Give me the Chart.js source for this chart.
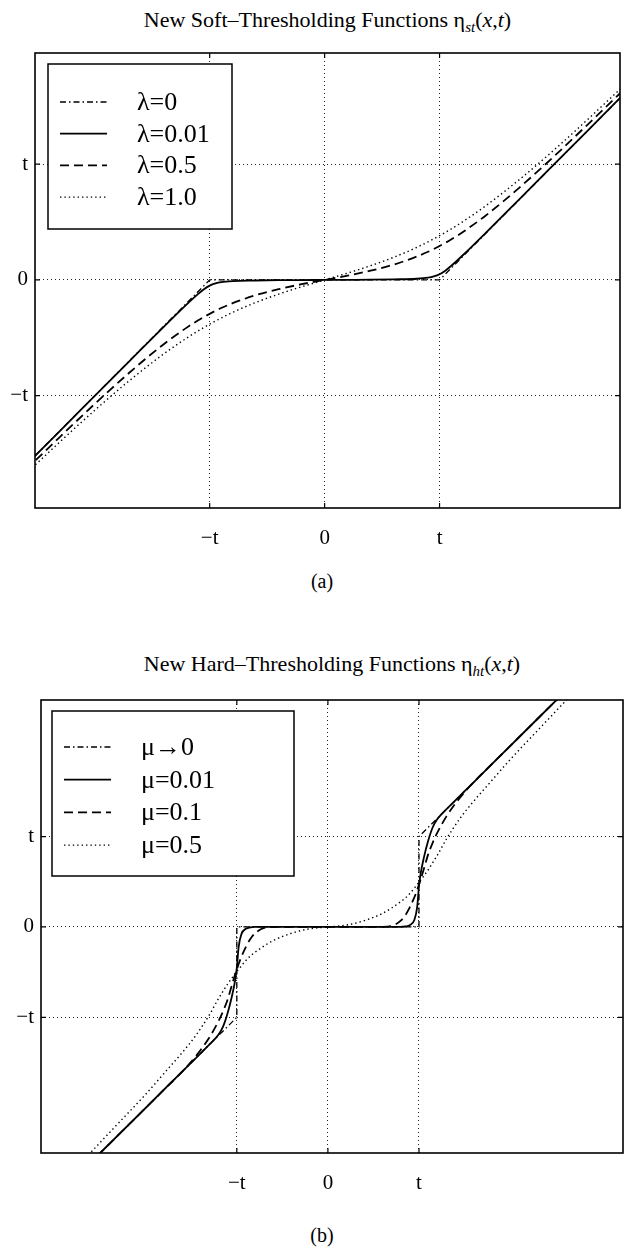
<!DOCTYPE html>
<html>
<head>
<meta charset="utf-8">
<script src="https://cdn.jsdelivr.net/npm/chart.js@4.4.1/dist/chart.umd.min.js"></script>
<style>
  body { margin: 0; background: #fff; width: 626px; height: 1250px; position: relative; overflow: hidden;
         font-family: "Liberation Serif", "Times New Roman", serif; color: #000; }
  .box { position: absolute; left: 0; width: 626px; }
  .title { position: absolute; left: 35px; width: 585px; text-align: center; font-size: 22px; line-height: 22px; white-space: nowrap; }
  .title sub { font-size: 15px; vertical-align: -5px; line-height: 0; }
  .cap { position: absolute; left: 292px; width: 60px; text-align: center; font-size: 20px; line-height: 20px; }
</style>
</head>
<body>
<div class="title" style="top:9px">New Soft&ndash;Thresholding Functions &eta;<sub><i>st</i></sub>(<i>x</i>,<i>t</i>)</div>
<div class="box" style="top:0px;height:570px"><canvas id="softChart" width="626" height="570"></canvas></div>
<div class="cap" style="top:571px">(a)</div>

<div class="title" style="top:653px;left:41px;width:582px">New Hard&ndash;Thresholding Functions &eta;<sub><i>ht</i></sub>(<i>x</i>,<i>t</i>)</div>
<div class="box" style="top:600px;height:620px"><canvas id="hardChart" width="626" height="620"></canvas></div>
<div class="cap" style="top:1225px">(b)</div>

<script>
// tick positions (in units of t) and their labels
const tickVals = [-1, 0, 1];
const tickText = ['\u2212t', '0', 't'];

// (a) soft thresholding, x in units of t
const softLabels = ['\u03bb=0', '\u03bb=0.01', '\u03bb=0.5', '\u03bb=1.0'];
const softX = [-2.6, -2.3, -2.0, -1.7, -1.4, -1.2, -1.1, -1.05, -1.0, -0.95, -0.9, -0.8, -0.6, -0.4, -0.2, 0,
               0.2, 0.4, 0.6, 0.8, 0.9, 0.95, 1.0, 1.05, 1.1, 1.2, 1.4, 1.7, 2.0, 2.3, 2.6];
const softL0 = [-1.6, -1.3, -1.0, -0.7, -0.4, -0.2, -0.1, -0.05, 0, 0, 0, 0, 0, 0, 0, 0,
                0, 0, 0, 0, 0, 0, 0, 0.05, 0.1, 0.2, 0.4, 0.7, 1.0, 1.3, 1.6];
const softL001 = [-1.601, -1.301, -1.002, -0.703, -0.405, -0.211, -0.120, -0.080, -0.049, -0.030, -0.019, -0.010, -0.005, -0.002, -0.001, 0,
                  0.001, 0.002, 0.005, 0.010, 0.019, 0.030, 0.049, 0.080, 0.120, 0.211, 0.405, 0.703, 1.002, 1.301, 1.601];
const softL05 = [-1.640, -1.353, -1.071, -0.802, -0.555, -0.412, -0.349, -0.320, -0.293, -0.267, -0.243, -0.201, -0.132, -0.080, -0.037, 0,
                 0.037, 0.080, 0.132, 0.201, 0.243, 0.267, 0.293, 0.320, 0.349, 0.412, 0.555, 0.802, 1.071, 1.353, 1.640];
const softL1 = [-1.675, -1.396, -1.126, -0.871, -0.639, -0.502, -0.440, -0.410, -0.382, -0.355, -0.329, -0.280, -0.195, -0.123, -0.059, 0,
                0.059, 0.123, 0.195, 0.280, 0.329, 0.355, 0.382, 0.410, 0.440, 0.502, 0.639, 0.871, 1.126, 1.396, 1.675];

// (b) hard thresholding
const hardLabels = ['\u03bc\u21920', '\u03bc=0.01', '\u03bc=0.1', '\u03bc=0.5'];
const hardStepX = [-3.4, -1, -1, 1, 1, 3.4];
const hardStepY = [-3.4, -1, 0, 0, 1, 3.4];
const hardX = [-3.4, -3.0, -2.6, -2.3, -2.0, -1.8, -1.6, -1.45, -1.3, -1.2, -1.15, -1.1, -1.05, -1.02, -1.0, -0.98, -0.95, -0.9, -0.85, -0.8, -0.7, -0.6, -0.4, -0.2, 0,
               0.2, 0.4, 0.6, 0.7, 0.8, 0.85, 0.9, 0.95, 0.98, 1.0, 1.02, 1.05, 1.1, 1.15, 1.2, 1.3, 1.45, 1.6, 1.8, 2.0, 2.3, 2.6, 3.0, 3.4];
const hardM001 = [-3.4, -3.0, -2.6, -2.3, -2.0, -1.8, -1.6, -1.45, -1.3, -1.19, -1.1, -0.95, -0.75, -0.6, -0.45, -0.22, -0.08, -0.02, -0.005, 0, 0, 0, 0, 0, 0,
                  0, 0, 0, 0, 0, 0.005, 0.02, 0.08, 0.22, 0.45, 0.6, 0.75, 0.95, 1.1, 1.19, 1.3, 1.45, 1.6, 1.8, 2.0, 2.3, 2.6, 3.0, 3.4];
const hardM01 = [-3.4, -3.0, -2.6, -2.3, -2.0, -1.8, -1.6, -1.43, -1.22, -1.04, -0.93, -0.8, -0.63, -0.53, -0.47, -0.41, -0.33, -0.22, -0.13, -0.07, -0.01, 0, 0, 0, 0,
                 0, 0, 0, 0.01, 0.07, 0.13, 0.22, 0.33, 0.41, 0.47, 0.53, 0.63, 0.8, 0.93, 1.04, 1.22, 1.43, 1.6, 1.8, 2.0, 2.3, 2.6, 3.0, 3.4];
const hardM05 = [-3.33, -2.92, -2.49, -2.17, -1.85, -1.62, -1.39, -1.2, -0.97, -0.79, -0.71, -0.63, -0.56, -0.52, -0.49, -0.47, -0.43, -0.37, -0.32, -0.28, -0.21, -0.15, -0.07, -0.02, 0,
                 0.02, 0.07, 0.15, 0.21, 0.28, 0.32, 0.37, 0.43, 0.47, 0.49, 0.52, 0.56, 0.63, 0.71, 0.79, 0.97, 1.2, 1.39, 1.62, 1.85, 2.17, 2.49, 2.92, 3.33];

// line styles (matlab-ish)
const dashDot = { borderWidth: 1.3, borderDash: [6, 3, 1.5, 3], cubicInterpolationMode: 'default', tension: 0 };
const solid = { borderWidth: 1.8, borderDash: [] };
const dashed = { borderWidth: 1.8, borderDash: [9, 5] };
const dotted = { borderWidth: 1.4, borderDash: [1.4, 3] };

function points(xs, ys) {
  return xs.map((x, i) => ({ x: x, y: ys[i] }));
}

function lineSet(label, xs, ys, style) {
  return Object.assign({
    label: label,
    data: points(xs, ys),
    showLine: true,
    borderColor: '#000',
    backgroundColor: '#000',
    pointRadius: 0,
    fill: false,
    cubicInterpolationMode: 'monotone'
  }, style);
}

// box around the axes, inward ticks and the boxed legend inside the plot
const frame = {
  id: 'frame',
  afterDraw(chart, args, opts) {
    const { ctx, chartArea: a, scales } = chart;
    ctx.save();
    ctx.setLineDash([]);
    ctx.strokeStyle = '#000';
    ctx.lineWidth = 1.6;
    ctx.strokeRect(a.left, a.top, a.right - a.left, a.bottom - a.top);
    ctx.lineWidth = 1.2;
    ctx.beginPath();
    tickVals.forEach(v => {
      const x = scales.x.getPixelForValue(v);
      const y = scales.y.getPixelForValue(v);
      ctx.moveTo(x, a.bottom); ctx.lineTo(x, a.bottom - 5);
      ctx.moveTo(x, a.top); ctx.lineTo(x, a.top + 5);
      ctx.moveTo(a.left, y); ctx.lineTo(a.left + 5, y);
      ctx.moveTo(a.right, y); ctx.lineTo(a.right - 5, y);
    });
    ctx.stroke();

    // legend box
    const bx = a.left + opts.left, by = a.top + opts.top;
    ctx.fillStyle = '#fff';
    ctx.fillRect(bx, by, opts.width, opts.height);
    ctx.lineWidth = 1.5;
    ctx.strokeRect(bx, by, opts.width, opts.height);
    ctx.font = '26px "Liberation Serif", serif';
    ctx.textBaseline = 'middle';
    ctx.fillStyle = '#000';
    chart.data.datasets.forEach((ds, i) => {
      const y = by + opts.firstRow + i * opts.rowStep;
      ctx.setLineDash(ds.borderDash || []);
      ctx.lineWidth = ds.borderWidth;
      ctx.beginPath();
      ctx.moveTo(bx + 12, y);
      ctx.lineTo(bx + 59, y);
      ctx.stroke();
      ctx.setLineDash([]);
      ctx.fillText(ds.label, bx + 89, y + 1);
    });
    ctx.restore();
  }
};

function axis(range, fitSize, isX) {
  const conf = {
    type: 'linear',
    min: range[0],
    max: range[1],
    grid: { color: '#222', lineWidth: 1, drawTicks: false },
    border: { display: false, dash: [1, 3] },
    afterBuildTicks: s => { s.ticks = tickVals.map(v => ({ value: v })); },
    ticks: {
      color: '#000',
      autoSkip: false,
      maxRotation: 0,
      font: { family: 'Liberation Serif', size: 21 },
      padding: isX ? 18 : 7,
      callback: v => tickText[tickVals.indexOf(v)]
    }
  };
  if (isX) conf.afterFit = s => { s.height = fitSize; };
  else conf.afterFit = s => { s.width = fitSize; };
  return conf;
}

function makeChart(id, datasets, xr, yr, yWidth, padding, legendBox) {
  return new Chart(document.getElementById(id).getContext('2d'), {
    type: 'scatter',
    data: { datasets: datasets },
    options: {
      responsive: false,
      animation: false,
      devicePixelRatio: 1,
      events: [],
      layout: { padding: padding },
      plugins: {
        legend: { display: false },
        tooltip: { enabled: false },
        frame: legendBox
      },
      scales: {
        x: axis(xr, 45, true),
        y: axis(yr, yWidth, false)
      }
    },
    plugins: [frame]
  });
}

const softChart = makeChart('softChart', [
    lineSet(softLabels[0], softX, softL0, dashDot),
    lineSet(softLabels[1], softX, softL001, solid),
    lineSet(softLabels[2], softX, softL05, dashed),
    lineSet(softLabels[3], softX, softL1, dotted)
  ],
  [-2.52, 2.57], [-1.97, 1.96], 35,
  { top: 53, right: 6, bottom: 17, left: 0 },
  { left: 13, top: 11, width: 184, height: 165, firstRow: 38, rowStep: 31.7 });

const hardChart = makeChart('hardChart', [
    lineSet(hardLabels[0], hardStepX, hardStepY, dashDot),
    lineSet(hardLabels[1], hardX, hardM001, solid),
    lineSet(hardLabels[2], hardX, hardM01, dashed),
    lineSet(hardLabels[3], hardX, hardM05, dotted)
  ],
  [-3.15, 3.24], [-2.5, 2.51], 41,
  { top: 100, right: 3, bottom: 22, left: 0 },
  { left: 11, top: 11, width: 242, height: 165, firstRow: 36, rowStep: 32.7 });
</script>
</body>
</html>
